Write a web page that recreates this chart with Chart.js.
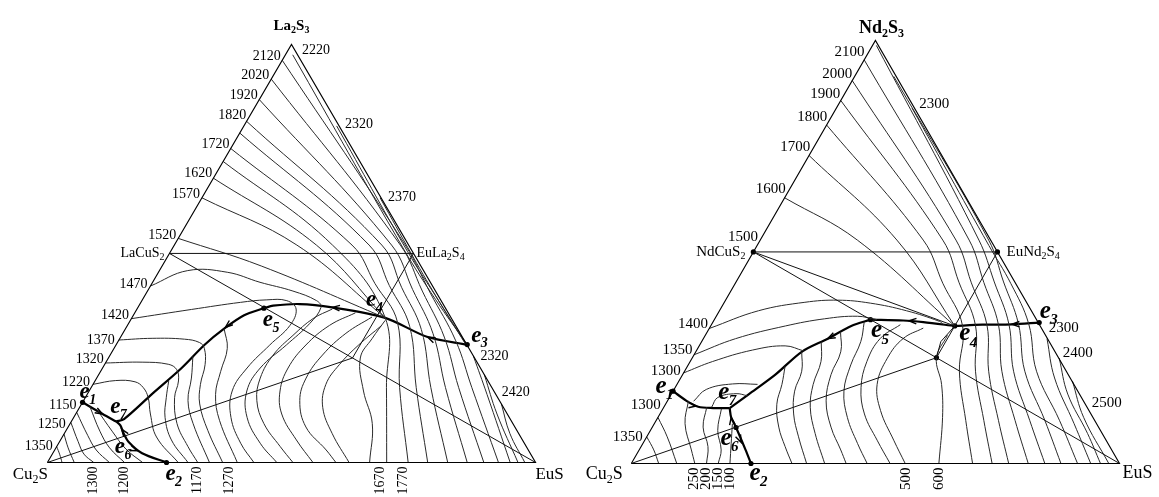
<!DOCTYPE html>
<html>
<head>
<meta charset="utf-8">
<script src="https://cdn.jsdelivr.net/npm/chart.js@4.4.1/dist/chart.umd.min.js"></script>
<style>
  body { margin: 0; background: #fff; }
  #wrap { position: relative; width: 1159px; height: 497px; }
  .pane { position: absolute; top: 0; height: 497px; }
  #leftPane { left: 0; width: 580px; }
  #rightPane { left: 580px; width: 579px; }
</style>
</head>
<body>
<div id="wrap">
  <div class="pane" id="leftPane"><canvas id="laChart" width="580" height="497"></canvas></div>
  <div class="pane" id="rightPane"><canvas id="ndChart" width="579" height="497"></canvas></div>
</div>
<script>
// Compositions are [mol% EuS, mol% Ln2S3]; the rest is Cu2S.

// ---------- Cu2S – EuS – La2S3 ----------
const laFrame = [[0, 0], [100, 0], [0, 100], [0, 0]];
const laTies = [
  [[0, 50], [50, 50]],
  [[0, 50], [100, 0]],
  [[0, 0], [50, 25]],
  [[50, 25], [50, 50]]
];
const laE3E5 = [[71.9, 28.2], [62.9, 30.0], [51.9, 34.6], [39.8, 37.1], [32.7, 37.9], [27.5, 37.5], [25.9, 36.9]];
const laE5E7 = [[25.9, 36.9], [22.7, 35.2], [20.2, 32.0], [18.1, 28.1], [16.2, 22.6], [13.2, 16.3], [10.5, 10.4], [9.2, 9.8]];
const laE1E7 = [[0, 14.4], [5.5, 11.6], [9.2, 9.8]];
const laE2E7 = [[24.4, 0], [18.3, 2.2], [14.2, 4.9], [12.2, 6.9], [10.5, 8.9], [9.2, 9.8]];
const laDots = [[0, 14.4], [24.4, 0], [71.9, 28.2], [25.9, 36.9]];

// La2S3 field isotherms; the upper ones carry on through the EuS field to the base
const laFan = [
  [[0, 96.2], [47.3, 52], [58.2, 40.5], [69.1, 29.1], [78.0, 17.9], [92.4, 0]],
  [[0, 91.7], [46.3, 52], [56.3, 41.0], [66.3, 30.0], [75.3, 17.9], [89.4, 0]],
  [[0, 86.8], [44.5, 52], [54.1, 41.4], [63.6, 30.8], [72.6, 17.9], [86.0, 0]],
  [[0, 81.6], [42.5, 52], [51.6, 41.9], [60.7, 31.8], [69.6, 17.9], [82.0, 0]],
  [[0, 78.8], [39.9, 52], [48.9, 42.3], [57.9, 32.6], [66.6, 17.9], [77.9, 0]],
  [[0, 75.1], [36.4, 52], [45.7, 42.8], [54.9, 33.6], [63.2, 17.9], [73.9, 0]],
  [[0, 72.0], [32.4, 52], [51.9, 34.6], [60.5, 17.9], [69.5, 0]],
  [[0, 68.0], [29.1, 52], [51.9, 34.6]],
  [[0, 63.3], [25.1, 52], [51.9, 34.6]],
  [[0, 53.6], [20.3, 47], [51.9, 34.6]]
];
const laEdgeLines = [
  [[1.5, 97.5], [47.5, 51], [60, 39], [71.9, 28.2]],
  [[19, 80.5], [48.5, 50.5], [61, 38.5], [71.5, 28.4]],
  [[36.5, 63.3], [50, 49.5], [61.5, 38], [71.2, 28.6]]
];
// LaCuS2 field isotherms running on into the EuS field
const laMid = [
  [[0, 42.2], [5.8, 45.9], [14.1, 45.5], [22.0, 43.1], [29.8, 41.0], [35.8, 38.7], [37.5, 37.1], [37.1, 33.2], [34.9, 28.1], [32.3, 22.6], [32.3, 17.1], [35.5, 10.8], [41.3, 4.6], [47.0, 0]],
  [[0, 34.4], [11.2, 36.6], [20.4, 38.3], [25.5, 38.9], [29.7, 38.7], [32.6, 36.7], [33.3, 32.8], [31.5, 28.1], [29.6, 22.6], [29.3, 17.1], [32.2, 10.8], [37.3, 4.6], [42.3, 0]],
  [[0, 29.3], [6.6, 29.7], [13.3, 29.5], [16.8, 28.7], [18.5, 27.3], [20.6, 23.4], [22.0, 18.7], [24.2, 14.0], [29.0, 7.7], [35.9, 0]],
  [[0, 23.8], [7.4, 24.0], [13.0, 23.5], [15.4, 22.2], [17.1, 19.5], [18.3, 15.5], [21.9, 9.3], [26.9, 3.8], [30.8, 0]],
  [[0, 18.7], [4.2, 19.6], [8.3, 19.3], [10.7, 17.9], [12.9, 15.5], [15.3, 11.6], [19.3, 6.1], [26.8, 0]],
  [[17.1, 25.4], [19.4, 20.2], [21.4, 14.8], [25.2, 9.3], [33.2, 0]],
  [[20.2, 32.0], [23.2, 27.3], [24.6, 21.8], [26.3, 16.3], [30.2, 10.1], [38.9, 0]],
  [[15.1, 19.5], [16.6, 15.5], [18.7, 10.8], [22.7, 5.4], [28.8, 0]],
  [[40.0, 36.7], [37.2, 34.4], [35.1, 30.4], [33.4, 25.7], [33.5, 20.2], [35.5, 14.8], [39.7, 9.3], [45.8, 3.8], [50.3, 0]],
  [[45.2, 35.8], [41.4, 32.8], [38.9, 28.1], [38.0, 22.6], [39.1, 17.1], [42.2, 11.6], [48.3, 5.4], [54.4, 0]],
  [[49.1, 34.8], [45.7, 30.9], [43.5, 25.7], [42.9, 20.2], [44.3, 14.8], [48.7, 8.5], [55.6, 3.0], [59.1, 0]],
  [[52.1, 32.8], [49.7, 28.1], [48.1, 23.4], [47.7, 18.7], [49.8, 13.2], [54.9, 6.9], [61.8, 0]],
  [[52.2, 34.0], [51.7, 29.7], [51.6, 25.0], [56.2, 17.1], [61.9, 9.3], [66.0, 0]]
];
// Cu2S corner
const laCorner = [
  [[4.0, 12.5], [9.5, 7.5], [14.5, 3.2], [19.5, 0]],
  [[2.0, 13.4], [7.0, 7.5], [11.0, 3.5], [15.8, 0]],
  [[0, 12.0], [5.0, 6.5], [8.5, 3.0], [12.7, 0]],
  [[0, 9.6], [3.8, 5.0], [6.5, 2.0], [9.5, 0]],
  [[0, 6.8], [2.5, 3.5], [5.5, 0]],
  [[0, 3.8], [1.5, 2.0], [3.0, 0]]
];
// EuS field next to the EuS corner
const laEuS = [
  [[74.5, 25.5], [81.9, 16.3], [94.8, 0]],
  [[79.0, 21.0], [86.3, 11.6], [96.4, 0]],
  [[86.0, 14.0], [91.3, 6.9], [97.8, 0]]
];
// arrow tip [EuS, La2S3] followed by a point it heads towards
const laArrows = [[62.9, 30.0, 51.9, 34.6], [39.8, 37.1, 32.7, 37.9], [20.3, 32.3, 18.1, 28.1], [5.5, 11.6, 9.2, 9.8], [11.2, 8.0, 9.2, 9.8], [17.0, 2.8, 24.4, 0]];
const laLeftTemps = [['2120', 97.2], ['2020', 92.5], ['1920', 87.8], ['1820', 83.1], ['1720', 76.2], ['1620', 69.2], ['1570', 64.2], ['1520', 54.4], ['1470', 42.6], ['1420', 35.1], ['1370', 29.2], ['1320', 24.7], ['1220', 19.1], ['1150', 13.6], ['1250', 9.2], ['1350', 3.8]];
const laRightTemps = [['2220', 98.6], ['2320', 80.9], ['2370', 63.3], ['2320', 25.4], ['2420', 16.7]];
const laBaseTemps = [['1300', 9.5], ['1200', 15.8], ['1170', 30.7], ['1270', 37.2], ['1670', 68.1], ['1770', 72.9]];
const laPoints = [['1', 0, 14.4, 2, -10], ['2', 24.4, 0, 4, 12], ['3', 71.9, 28.2, 9, -9], ['4', 51.9, 34.6, -14, -18], ['5', 25.9, 36.9, 4, 12], ['6', 12.2, 6.9, -4, 13], ['7', 9.2, 9.8, -1, -14]];

// ---------- Cu2S – EuS – Nd2S3 ----------
const ndFrame = [[0, 0], [100, 0], [0, 100], [0, 0]];
const ndTies = [
  [[0, 50], [50, 50]],
  [[0, 50], [100, 0]],
  [[0, 50], [50, 32.5]],
  [[0, 0], [50, 25]],
  [[50, 25], [50, 50]],
  [[50, 25], [49.0, 28.8], [50, 32.5]]
];
const ndE3E4 = [[66.9, 33.3], [61.5, 32.9], [55.5, 32.8], [50.0, 32.5]];
const ndE4E5 = [[50.0, 32.5], [43.1, 33.4], [38.8, 33.8], [32.0, 34.0]];
const ndE5E7 = [[32.0, 34.0], [28.8, 32.5], [25.5, 29.5], [21.7, 26.4], [19.0, 21.0], [15.9, 16.4], [13.6, 13.1]];
const ndE1E7 = [[0, 17.1], [3.9, 14.8], [7.0, 13.4], [10.2, 13.1], [13.6, 13.1]];
const ndE2E7 = [[24.5, 0], [21.8, 3.2], [17.2, 8.5], [15.0, 10.9], [13.6, 13.1]];
const ndDots = [[0, 50], [50, 50], [50, 25], [66.9, 33.3], [50, 32.5], [32.0, 34.0], [0, 17.1], [17.2, 8.5], [24.5, 0]];

const ndFan = [
  [[0, 62.8], [19.9, 52.8], [50, 32.5]],
  [[0, 72.8], [28.0, 52.8], [50, 32.5]],
  [[0, 80.0], [33.4, 52.8], [42.5, 42.6], [51.6, 32.5], [56.3, 21.8], [63.4, 10.2], [69.9, 0]],
  [[0, 85.8], [37.4, 52.8], [45.8, 42.7], [54.2, 32.6], [59.6, 21.8], [67.1, 10.2], [73.9, 0]],
  [[0, 90.5], [40.1, 52.8], [48.3, 42.7], [56.5, 32.7], [62.3, 21.8], [70.1, 10.2], [77.3, 0]],
  [[0, 95.4], [42.8, 52.8], [50.8, 42.8], [58.8, 32.8], [65.0, 21.8], [73.5, 10.2], [81.3, 0]]
];
const ndEdgeLines = [
  [[0.8, 98.8], [44.8, 52.8], [52.9, 42.9], [60.9, 32.9], [67.4, 21.8], [76.5, 10.2], [84.7, 0]],
  [[8, 91.5], [46.8, 52.8], [54.8, 42.9], [62.8, 33.0], [69.7, 21.8], [79.6, 10.2], [88.0, 0]],
  [[15.5, 84], [47.5, 51.5], [56.5, 42.5], [64.9, 33.0], [72.1, 21.8], [82.6, 10.2], [91.4, 0]]
];
const ndMid = [
  [[0, 31.9], [8.0, 36.1], [16.5, 38.1], [23.0, 38.6], [30.0, 37.9], [38.3, 36.1], [46.3, 33.6], [47.5, 32.9]],
  [[0, 25.7], [6.6, 29.5], [15.3, 32.5], [22.5, 34.2], [28.9, 34.8], [33.3, 34.0]],
  [[0, 21.4], [4.6, 24.1], [11.4, 26.8], [17.6, 27.8], [22.0, 26.6]],
  [[5.4, 14.7], [6.6, 17.5], [11.3, 18.8], [16.5, 18.7]],
  [[9.8, 13.3], [9.9, 15.6], [13.2, 16.5], [15.8, 16.0]],
  [[20.0, 23.0], [21.5, 18.7], [22.8, 14.0], [25.9, 8.6], [29.5, 4.0], [32.9, 0]],
  [[21.7, 26.4], [24.0, 21.8], [24.9, 17.1], [27.4, 11.7], [31.1, 6.3], [35.9, 0]],
  [[24.5, 28.8], [26.8, 24.1], [27.9, 18.7], [30.0, 13.3], [34.1, 7.1], [39.6, 0]],
  [[27.3, 31.1], [29.7, 26.4], [30.4, 21.0], [32.5, 14.8], [36.6, 8.6], [41.3, 3.2], [44.0, 0]],
  [[31.0, 33.4], [32.6, 28.8], [33.3, 23.3], [35.0, 17.1], [38.8, 10.9], [44.0, 4.7], [48.3, 0]],
  [[38.7, 32.8], [36.2, 29.5], [36.2, 24.1], [38.1, 17.9], [41.9, 11.7], [47.6, 5.5], [53.0, 0]],
  [[43.8, 32.0], [40.9, 29.5], [40.0, 24.9], [41.0, 18.7], [44.8, 12.5], [51.0, 5.5], [56.1, 0]],
  [[49.6, 30.3], [50, 25], [54.2, 18.7], [58.3, 10.9], [63.0, 0]]
];
const ndCorner = [
  [[4.3, 14.8], [6.3, 9.4], [10.7, 3.2], [13.0, 0]],
  [[8.8, 13.3], [10.4, 8.6], [13.7, 4.0], [15.4, 0]],
  [[12.0, 12.9], [13.8, 7.8], [16.8, 3.2], [17.8, 0]],
  [[16.0, 9.4], [18.1, 4.7], [20.2, 0]],
  [[0, 10.9], [4.2, 6.3], [9.3, 0]],
  [[0, 6.3], [3.0, 3.2], [5.6, 0]]
];
const ndEuS = [
  [[70.4, 29.5], [76.6, 20.2], [86.0, 9.4], [94.1, 0]],
  [[75.2, 24.9], [81.2, 16.4], [89.9, 7.1], [96.1, 0]],
  [[80.6, 19.5], [87.2, 10.9], [97.8, 0]]
];
const ndArrows = [[61.5, 32.9, 55.5, 32.8], [40.0, 33.7, 32.0, 34.0], [25.5, 29.5, 21.7, 26.4], [6.5, 13.6, 10.2, 13.1], [15.0, 10.9, 13.6, 13.1], [20.0, 5.0, 24.5, 0]];
const ndLeftTemps = [['2100', 97.2], ['2000', 92.1], ['1900', 87.2], ['1800', 81.9], ['1700', 74.9], ['1600', 64.9], ['1500', 53.5], ['1400', 33.0], ['1350', 26.7], ['1300', 21.9], ['1300', 13.7], ['1350', 6.3]];
const ndRightTemps = [['2300', 84.9], ['2300', 31.9], ['2400', 26.1], ['2500', 14.2]];
const ndBaseTemps = [['250', 12.9], ['200', 15.4], ['150', 17.8], ['100', 20.2], ['500', 56.2], ['600', 63.0]];
const ndPoints = [['1', 0, 17.1, -12, -5], ['2', 24.5, 0, 4, 10], ['3', 66.9, 33.3, 6, -11], ['4', 50, 32.5, 10, 8], ['5', 32, 34, 6, 11], ['6', 17.2, 8.5, -10, 11], ['7', 13.6, 13.1, -6, -16]];

// ternary composition -> plane of the Gibbs triangle
const tern = p => ({ x: p[0] + p[1] / 2, y: p[1] });

const SERIF = '"Liberation Serif", "Times New Roman", serif';

// text with "_d" subscripts, e.g. Cu_2S
function drawChem(ctx, str, x, y, size, weight, align) {
  const parts = str.split(/(_\d)/).filter(s => s.length);
  const main = `${weight} ${size}px ${SERIF}`;
  const sub = `${weight} ${Math.round(size * 0.68)}px ${SERIF}`;
  let w = 0;
  parts.forEach(s => {
    ctx.font = s[0] === '_' ? sub : main;
    w += ctx.measureText(s[0] === '_' ? s.slice(1) : s).width;
  });
  let cx = align === 'center' ? x - w / 2 : align === 'right' ? x - w : x;
  ctx.textAlign = 'left';
  ctx.textBaseline = 'middle';
  parts.forEach(s => {
    if (s[0] === '_') {
      ctx.font = sub;
      ctx.fillText(s.slice(1), cx, y + size * 0.3);
      cx += ctx.measureText(s.slice(1)).width;
    } else {
      ctx.font = main;
      ctx.fillText(s, cx, y);
      cx += ctx.measureText(s).width;
    }
  });
}

function labelPlugin(sys) {
  return {
    id: 'phaseLabels',
    afterDatasetsDraw(chart) {
      const ctx = chart.ctx;
      const xs = chart.scales.x, ys = chart.scales.y;
      const pix = (b, c) => ({ x: xs.getPixelForValue(b + c / 2), y: ys.getPixelForValue(c) });
      ctx.save();
      ctx.fillStyle = '#000';

      // arrows along the univariant lines
      ctx.strokeStyle = '#000';
      ctx.lineWidth = 1.4;
      sys.arrows.forEach(a => {
        const p = pix(a[0], a[1]), q = pix(a[2], a[3]);
        const ang = Math.atan2(q.y - p.y, q.x - p.x);
        ctx.beginPath();
        ctx.moveTo(p.x - 8 * Math.cos(ang - 0.35), p.y - 8 * Math.sin(ang - 0.35));
        ctx.lineTo(p.x, p.y);
        ctx.lineTo(p.x - 8 * Math.cos(ang + 0.35), p.y - 8 * Math.sin(ang + 0.35));
        ctx.stroke();
      });

      const tf = `${sys.tempSize}px ${SERIF}`;
      ctx.font = tf;
      ctx.textBaseline = 'middle';
      ctx.textAlign = 'right';
      sys.leftTemps.forEach(([t, c]) => {
        const p = pix(0, c);
        ctx.fillText(t, p.x - 4, p.y);
      });
      ctx.textAlign = 'left';
      sys.rightTemps.forEach(([t, c]) => {
        const p = pix(100 - c, c);
        ctx.fillText(t, p.x + 7, p.y);
      });
      sys.baseTemps.forEach(([t, b]) => {
        const p = pix(b, 0);
        ctx.save();
        ctx.translate(p.x, p.y + 4);
        ctx.rotate(-Math.PI / 2);
        ctx.textAlign = 'right';
        ctx.fillText(t, 0, 0);
        ctx.restore();
      });

      // components and compounds
      const v = sys.vertices;
      let p = pix(0, 0);
      drawChem(ctx, 'Cu_2S', p.x + v.cu[0], p.y + v.cu[1], v.size, 'normal', 'center');
      p = pix(100, 0);
      drawChem(ctx, 'EuS', p.x + v.eu[0], p.y + v.eu[1], v.size, 'normal', 'center');
      p = pix(0, 100);
      drawChem(ctx, sys.topName, p.x + v.top[0], p.y + v.top[1], v.topSize, 'bold', 'center');
      p = pix(0, 50);
      drawChem(ctx, sys.leftCompound, p.x + v.lc[0], p.y + v.lc[1], v.cmpSize, 'normal', 'right');
      p = pix(50, 50);
      drawChem(ctx, sys.rightCompound, p.x + v.rc[0], p.y + v.rc[1], v.cmpSize, 'normal', 'left');

      // invariant point names
      sys.points.forEach(([d, b, c, dx, dy]) => {
        const q = pix(b, c);
        ctx.font = `bold italic ${sys.eSize}px ${SERIF}`;
        ctx.textAlign = 'center';
        ctx.textBaseline = 'middle';
        ctx.fillText('e', q.x + dx, q.y + dy);
        ctx.font = `bold italic ${Math.round(sys.eSize * 0.6)}px ${SERIF}`;
        ctx.textAlign = 'left';
        ctx.fillText(d, q.x + dx + sys.eSize * 0.2, q.y + dy + sys.eSize * 0.36);
      });
      ctx.restore();
    }
  };
}

function buildDiagram(canvasId, sys) {
  const datasets = [];
  const add = (pts, width, color, tension) => datasets.push({
    data: pts.map(tern), showLine: true, pointRadius: 0, borderWidth: width,
    borderColor: color, tension: tension, fill: false
  });
  add(sys.frame, 1.1, '#000', 0);
  sys.ties.forEach(t => add(t, 1, '#111', 0));
  sys.isotherms.forEach(t => add(t, 1, '#2a2a2a', 0.4));
  sys.boundaries.forEach(t => add(t, 2.2, '#000', 0.3));
  datasets.push({
    data: sys.dots.map(tern), showLine: false, pointRadius: 2.6,
    pointBackgroundColor: '#000', pointBorderWidth: 0
  });
  return new Chart(document.getElementById(canvasId), {
    type: 'scatter',
    data: { datasets },
    options: {
      responsive: false,
      animation: false,
      events: [],
      layout: { padding: 0 },
      scales: {
        x: { type: 'linear', display: false, min: sys.xRange[0], max: sys.xRange[1] },
        y: { type: 'linear', display: false, min: sys.yRange[0], max: sys.yRange[1] }
      },
      plugins: { legend: { display: false }, tooltip: { enabled: false } }
    },
    plugins: [labelPlugin(sys)]
  });
}

buildDiagram('laChart', {
  xRange: [-8.89, 108.28], yRange: [-7.29, 109.65],
  frame: laFrame, ties: laTies,
  isotherms: [...laFan, ...laEdgeLines, ...laMid, ...laCorner, ...laEuS],
  boundaries: [laE3E5, laE5E7, laE1E7, laE2E7],
  dots: laDots, arrows: laArrows,
  leftTemps: laLeftTemps, rightTemps: laRightTemps, baseTemps: laBaseTemps,
  points: laPoints, tempSize: 14, eSize: 23,
  topName: 'La_2S_3', leftCompound: 'LaCuS_2', rightCompound: 'EuLa_2S_4',
  vertices: { cu: [-17, 12], eu: [14, 12], top: [0, -18], lc: [-5, 0], rc: [3, 0], size: 17, topSize: 15, cmpSize: 14 }
});

buildDiagram('ndChart', {
  xRange: [-9.697, 107.27], yRange: [-6.977, 108.6],
  frame: ndFrame, ties: ndTies,
  isotherms: [...ndFan, ...ndEdgeLines, ...ndMid, ...ndCorner, ...ndEuS],
  boundaries: [ndE3E4, ndE4E5, ndE5E7, ndE1E7, ndE2E7],
  dots: ndDots, arrows: ndArrows,
  leftTemps: ndLeftTemps, rightTemps: ndRightTemps, baseTemps: ndBaseTemps,
  points: ndPoints, tempSize: 15, eSize: 25,
  topName: 'Nd_2S_3', leftCompound: 'NdCuS_2', rightCompound: 'EuNd_2S_4',
  vertices: { cu: [-27, 11], eu: [18, 10], top: [6, -12], lc: [-8, 0], rc: [9, 0], size: 18, topSize: 18, cmpSize: 15 }
});
</script>
</body>
</html>
